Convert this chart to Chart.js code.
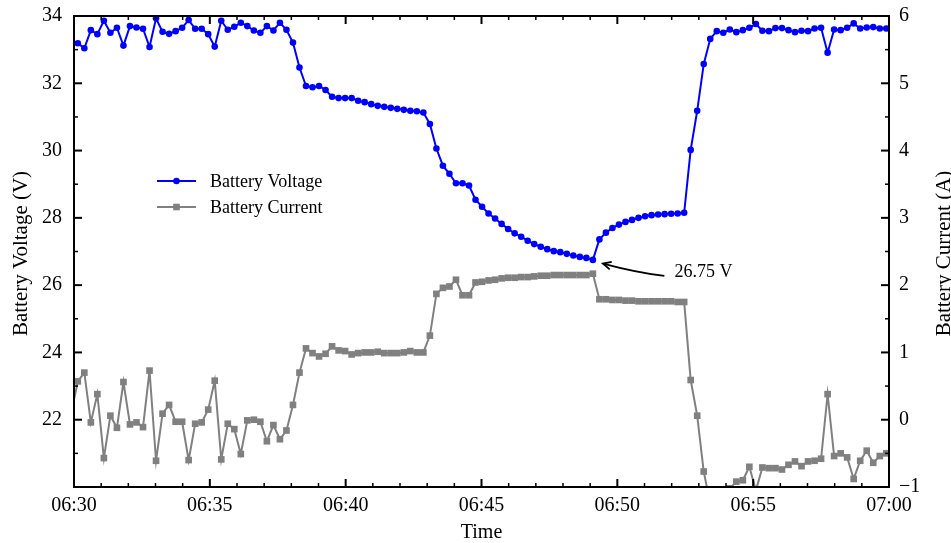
<!DOCTYPE html>
<html>
<head>
<meta charset="utf-8">
<title>Battery voltage and current</title>
<script src="https://cdn.jsdelivr.net/npm/chart.js@4"></script>
<style>
  html, body { margin: 0; padding: 0; background: #fff; }
  canvas { display: block; }
</style>
</head>
<body>
<canvas id="batteryChart" width="951" height="543"></canvas>
<script>
// samples start just before 06:30 and are logged every 14.4 s
const firstSampleMin = -0.1;
const sampleStepMin = 0.24;

const batteryVoltage = [
  33.21, 33.19, 33.04, 33.58, 33.46, 33.86, 33.50, 33.65, 33.12, 33.70,
  33.66, 33.62, 33.08, 33.93, 33.53, 33.47, 33.55, 33.65, 33.88, 33.62,
  33.62, 33.46, 33.09, 33.86, 33.59, 33.68, 33.80, 33.70, 33.57, 33.50,
  33.70, 33.57, 33.80, 33.59, 33.21, 32.47, 31.92, 31.88, 31.92, 31.80,
  31.60, 31.56, 31.56, 31.56, 31.48, 31.44, 31.38, 31.33, 31.30, 31.27,
  31.24, 31.21, 31.18, 31.17, 31.13, 30.79, 30.06, 29.55, 29.31, 29.03,
  29.03, 28.96, 28.54, 28.33, 28.13, 27.98, 27.82, 27.67, 27.54, 27.44,
  27.32, 27.22, 27.14, 27.07, 27.01, 26.98, 26.93, 26.88, 26.84, 26.81,
  26.75, 27.36, 27.56, 27.70, 27.80, 27.88, 27.94, 28.00, 28.05, 28.08,
  28.10, 28.11, 28.12, 28.13, 28.15, 30.02, 31.18, 32.57, 33.32, 33.55,
  33.50, 33.60, 33.52, 33.58, 33.65, 33.76, 33.56, 33.55, 33.64, 33.64,
  33.58, 33.52, 33.56, 33.55, 33.63, 33.65, 32.91, 33.60, 33.58, 33.65,
  33.78, 33.63, 33.66, 33.67, 33.63, 33.63
];

const batteryCurrent = [
  0.10, 0.57, 0.70, -0.04, 0.38, -0.57, 0.06, -0.12, 0.56, -0.07,
  -0.04, -0.11, 0.73, -0.61, 0.09, 0.22, -0.03, -0.03, -0.60, -0.06,
  -0.04, 0.15, 0.58, -0.59, -0.06, -0.14, -0.51, -0.01, 0.00, -0.03,
  -0.32, -0.08, -0.29, -0.16, 0.22, 0.70, 1.06, 0.99, 0.94, 0.98,
  1.09, 1.03, 1.02, 0.97, 0.99, 1.00, 1.00, 1.01, 0.99, 0.99,
  0.99, 1.00, 1.02, 1.00, 1.00, 1.25, 1.87, 1.96, 1.98, 2.08,
  1.85, 1.85, 2.04, 2.05, 2.07, 2.08, 2.10, 2.11, 2.11, 2.12,
  2.12, 2.13, 2.14, 2.14, 2.15, 2.15, 2.15, 2.15, 2.15, 2.15,
  2.17, 1.79, 1.79, 1.78, 1.78, 1.77, 1.77, 1.76, 1.76, 1.76,
  1.76, 1.76, 1.76, 1.75, 1.75, 0.59, 0.06, -0.77, -1.25, -1.30,
  -1.28, -1.02, -0.92, -0.90, -0.70, -1.05, -0.71, -0.72, -0.72, -0.74,
  -0.67, -0.62, -0.69, -0.62, -0.61, -0.58, 0.38, -0.54, -0.50, -0.56,
  -0.88, -0.61, -0.46, -0.64, -0.54, -0.50
];

const timeTicks = ['06:30', '06:35', '06:40', '06:45', '06:50', '06:55', '07:00'];
const voltageTicks = [22, 24, 26, 28, 30, 32, 34];
const currentTicks = [-1, 0, 1, 2, 3, 4, 5, 6];

const minVoltage = Math.min(...batteryVoltage);
const minIndex = batteryVoltage.indexOf(minVoltage);

const sampleTime = i => firstSampleMin + i * sampleStepMin;
const voltagePoints = batteryVoltage.map((v, i) => ({ x: sampleTime(i), y: v }));
const currentPoints = batteryCurrent.map((c, i) => ({ x: sampleTime(i), y: c }));

const SERIF = '"Liberation Serif", "Times New Roman", serif';
const BLUE = '#0000ff';
const GREY = '#808080';

// spines, inward ticks, axis titles, legend box and the minimum-voltage note
const decorations = {
  id: 'decorations',
  afterDatasetsDraw(chart) {
    const { ctx, chartArea: a, scales } = chart;
    const { x, y, y1 } = scales;
    ctx.save();
    ctx.strokeStyle = '#000';
    const seg = (x0, y0, x1, y1_, w) => {
      ctx.lineWidth = w;
      ctx.beginPath();
      ctx.moveTo(x0, y0);
      ctx.lineTo(x1, y1_);
      ctx.stroke();
    };

    // time ticks (every minute, major every 5)
    for (let m = 0; m <= 30; m++) {
      const px = x.getPixelForValue(m);
      const major = m % 5 === 0;
      const len = major ? 8 : 4;
      const w = major ? 2 : 1.5;
      seg(px, a.bottom, px, a.bottom - len, w);
      seg(px, a.top, px, a.top + len, w);
    }
    // voltage ticks on the left spine
    for (let v = 20; v <= 34; v++) {
      const py = y.getPixelForValue(v);
      const major = v % 2 === 0;
      seg(a.left, py, a.left + (major ? 8 : 4), py, major ? 2 : 1.5);
    }
    // current ticks on the right spine
    for (let c = -1; c <= 6; c += 0.5) {
      const py = y1.getPixelForValue(c);
      const major = Number.isInteger(c);
      seg(a.right, py, a.right - (major ? 8 : 4), py, major ? 2 : 1.5);
    }

    ctx.lineWidth = 2;
    ctx.strokeRect(a.left, a.top, a.right - a.left, a.bottom - a.top);

    // axis titles
    ctx.fillStyle = '#000';
    ctx.textAlign = 'center';
    ctx.textBaseline = 'middle';
    ctx.font = '20px ' + SERIF;
    ctx.fillText('Time', (a.left + a.right) / 2, 533);
    ctx.font = '21px ' + SERIF;
    const midY = (a.top + a.bottom) / 2 + 2;
    ctx.save();
    ctx.translate(21, midY);
    ctx.rotate(-Math.PI / 2);
    ctx.fillText('Battery Voltage (V)', 0, 0);
    ctx.restore();
    ctx.save();
    ctx.translate(944, midY);
    ctx.rotate(-Math.PI / 2);
    ctx.fillText('Battery Current (A)', 0, 0);
    ctx.restore();

    // legend
    ctx.font = '18px ' + SERIF;
    ctx.textAlign = 'left';
    const rows = [
      { label: 'Battery Voltage', color: BLUE, square: false, yy: 181 },
      { label: 'Battery Current', color: GREY, square: true, yy: 207 }
    ];
    rows.forEach(r => {
      ctx.strokeStyle = r.color;
      ctx.fillStyle = r.color;
      seg(157, r.yy, 196, r.yy, 2);
      ctx.beginPath();
      if (r.square) {
        ctx.rect(176.5 - 3.3, r.yy - 3.3, 6.6, 6.6);
      } else {
        ctx.arc(176.5, r.yy, 3.3, 0, Math.PI * 2);
      }
      ctx.fill();
      ctx.fillStyle = '#000';
      ctx.fillText(r.label, 210, r.yy + 1);
    });

    // minimum voltage note with a curved arrow
    const mx = x.getPixelForValue(sampleTime(minIndex));
    const my = y.getPixelForValue(minVoltage);
    const head = { x: mx + 10, y: my + 3.6 };
    const tail = { x: mx + 71.5, y: my + 16 };
    const ctrl = { x: mx + 42.5, y: my + 12.3 };
    ctx.strokeStyle = '#000';
    ctx.lineWidth = 1.8;
    ctx.beginPath();
    ctx.moveTo(tail.x, tail.y);
    ctx.quadraticCurveTo(ctrl.x, ctrl.y, head.x, head.y);
    ctx.stroke();
    const ang = Math.atan2(head.y - ctrl.y, head.x - ctrl.x);
    const hl = 9;
    ctx.beginPath();
    ctx.moveTo(head.x - hl * Math.cos(ang - 0.45), head.y - hl * Math.sin(ang - 0.45));
    ctx.lineTo(head.x, head.y);
    ctx.lineTo(head.x - hl * Math.cos(ang + 0.45), head.y - hl * Math.sin(ang + 0.45));
    ctx.stroke();
    ctx.fillStyle = '#000';
    ctx.font = '18px ' + SERIF;
    ctx.textAlign = 'left';
    ctx.textBaseline = 'middle';
    ctx.fillText(minVoltage.toFixed(2) + ' V', mx + 81.5, my + 12.5);

    ctx.restore();
  }
};

const tickFont = { family: SERIF, size: 20 };

new Chart(document.getElementById('batteryChart'), {
  type: 'line',
  data: {
    datasets: [
      {
        label: 'Battery Voltage',
        data: voltagePoints,
        yAxisID: 'y',
        borderColor: BLUE,
        backgroundColor: BLUE,
        borderWidth: 2,
        pointStyle: 'circle',
        pointRadius: 3.3,
        pointBorderWidth: 0,
        pointBackgroundColor: BLUE,
        tension: 0
      },
      {
        label: 'Battery Current',
        data: currentPoints,
        yAxisID: 'y1',
        borderColor: GREY,
        backgroundColor: GREY,
        borderWidth: 2,
        pointStyle: 'rect',
        pointRadius: 4.7,
        pointBorderWidth: 0,
        pointBackgroundColor: GREY,
        tension: 0
      }
    ]
  },
  options: {
    responsive: false,
    devicePixelRatio: 1,
    animation: false,
    layout: { padding: { top: 16, left: 0, right: 0, bottom: 0 } },
    plugins: {
      legend: { display: false },
      tooltip: { enabled: false }
    },
    scales: {
      x: {
        type: 'linear',
        position: 'bottom',
        min: 0,
        max: 30,
        grid: { display: false },
        border: { display: false },
        afterFit: s => { s.height = 56; },
        afterBuildTicks: s => { s.ticks = timeTicks.map((t, i) => ({ value: i * 5 })); },
        ticks: {
          autoSkip: false,
          maxRotation: 0,
          padding: -1,
          color: '#000',
          font: tickFont,
          callback: (v, i) => timeTicks[i]
        }
      },
      y: {
        position: 'left',
        min: 20,
        max: 34,
        grid: { display: false },
        border: { display: false },
        afterFit: s => { s.width = 74; },
        afterBuildTicks: s => { s.ticks = voltageTicks.map(v => ({ value: v })); },
        ticks: {
          padding: 4,
          color: '#000',
          font: tickFont
        }
      },
      y1: {
        position: 'right',
        min: -1,
        max: 6,
        grid: { display: false },
        border: { display: false },
        afterFit: s => { s.width = 62; },
        afterBuildTicks: s => { s.ticks = currentTicks.map(v => ({ value: v })); },
        ticks: {
          padding: 2,
          color: '#000',
          font: tickFont,
          callback: v => (v < 0 ? '\u2212' + Math.abs(v) : String(v))
        }
      }
    }
  },
  plugins: [decorations]
});
</script>
</body>
</html>
